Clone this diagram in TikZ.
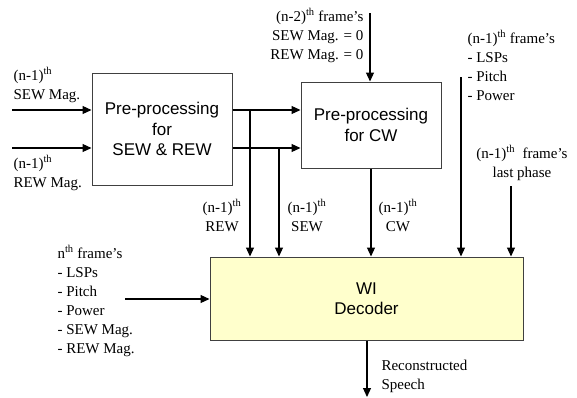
\documentclass[tikz,border=0pt]{standalone}
\usepackage{fontspec}
\setmainfont{Liberation Serif}
\setsansfont{Liberation Sans}
\usetikzlibrary{arrows.meta}

\definecolor{decfill}{RGB}{255,255,204}
\newcommand{\thsup}{\textsuperscript{th}}

\begin{document}
\begin{tikzpicture}[
        x=1pt, y=-1pt,
        line width=1.1pt,
    ]

    \tikzstyle{box} = [rectangle, draw=black!75, line width=1pt, inner sep=0pt,
                       align=center, font=\sffamily\fontsize{17}{20.5}\selectfont]
    \tikzstyle{lbl} = [inner sep=0pt, align=left, anchor=base west,
                       font=\fontsize{15}{19}\selectfont]
    \tikzstyle{arr} = [-{Triangle[length=9pt, width=8pt]}]

    \useasboundingbox (0,0) rectangle (577,397);

    % Nodes
    \node[box, minimum width=140pt, minimum height=112pt] (sewrew) at (162,129)
        {Pre-processing\\for\\SEW \& REW};
    \node[box, minimum width=140pt, minimum height=86pt] (cw) at (371,125)
        {Pre-processing\\for CW};
    \node[box, fill=decfill, minimum width=313pt, minimum height=83pt] (dec) at (366.5,298.5)
        {WI\\Decoder};

    % Labels (base = last line)
    \node[lbl] (sewlbl) at (13,99) {(n-1)\thsup\\SEW Mag.};
    \node[lbl] (rewlbl) at (13,187) {(n-1)\thsup\\REW Mag.};
    \node[lbl, align=right, anchor=base east] (zerolbl) at (364,59)
        {(n-2)\thsup{} frame's\\SEW Mag. = 0\\REW Mag. = 0};
    \node[lbl] (prevlbl) at (467,100) {(n-1)\thsup{} frame's\\- LSPs\\- Pitch\\- Power};
    \node[lbl, align=center, anchor=base] (phaselbl) at (522,177)
        {(n-1)\thsup{}~ frame's\\last phase};
    \node[lbl, align=center, anchor=base] (rewout) at (222,231) {(n-1)\thsup\\REW};
    \node[lbl, align=center, anchor=base] (sewout) at (307,231) {(n-1)\thsup\\SEW};
    \node[lbl, align=center, anchor=base] (cwout) at (398,231) {(n-1)\thsup\\CW};
    \node[lbl] (curlbl) at (57,353)
        {n\thsup{} frame's\\- LSPs\\- Pitch\\- Power\\- SEW Mag.\\- REW Mag.};
    \node[lbl] (speechlbl) at (381,389) {Reconstructed\\Speech};

    % Arrows
    \coordinate (sewin) at (12,110);
    \coordinate (rewin) at (12,148);
    \draw[arr] (sewin) -- (sewin -| sewrew.west);
    \draw[arr] (rewin) -- (rewin -| sewrew.west);
    \draw[arr] (sewin -| sewrew.east) -- (sewin -| cw.west);
    \draw[arr] (rewin -| sewrew.east) -- (rewin -| cw.west);

    \coordinate (rewtap) at (250,110);
    \coordinate (sewtap) at (279,148);
    \draw[arr] (rewtap) -- (rewtap |- dec.north);
    \draw[arr] (sewtap) -- (sewtap |- dec.north);

    \coordinate (cwtop) at (370,13);
    \draw[arr] (cwtop) -- (cwtop |- cw.north);
    \draw[arr] (cw.south) -- (cw.south |- dec.north);

    \coordinate (paramtop) at (461,77);
    \coordinate (phasetop) at (511,186);
    \draw[arr] (paramtop) -- (paramtop |- dec.north);
    \draw[arr] (phasetop) -- (phasetop |- dec.north);

    \coordinate (curin) at (125,299);
    \draw[arr] (curin) -- (curin -| dec.west);

    % Output
    \coordinate (speech) at (367,397);
    \draw[arr] (dec.south -| speech) -- (speech);

\end{tikzpicture}
\end{document}
